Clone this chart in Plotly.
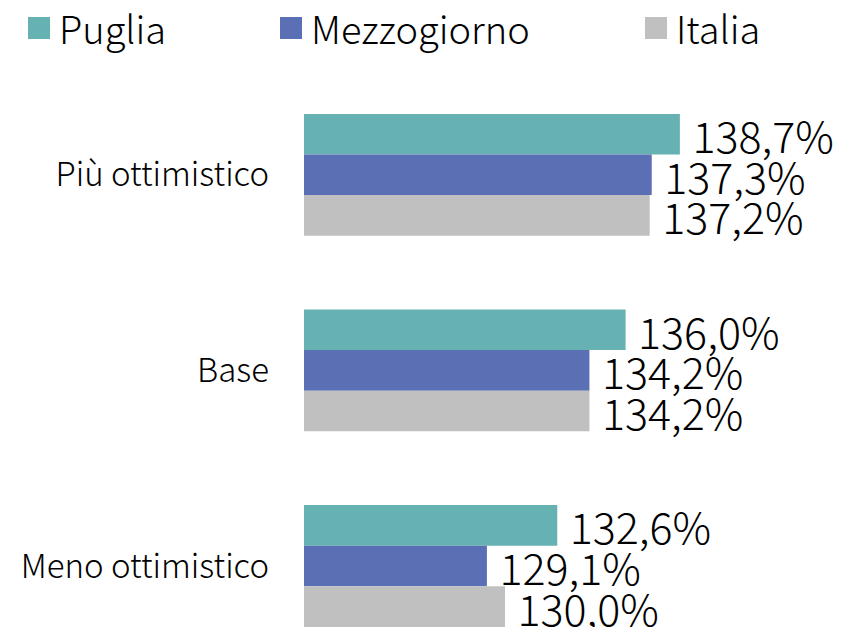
import plotly.graph_objects as go

# -----------------------------
# Data
# -----------------------------
scenari = ["Più ottimistico", "Base", "Meno ottimistico"]
puglia = [138.7, 136.0, 132.6]
mezzogiorno = [137.3, 134.2, 129.1]
italia = [137.2, 134.2, 130.0]

serie_nomi = ["Puglia", "Mezzogiorno", "Italia"]
colori = ["#66B2B2", "#5B6FB5", "#C0C0C0"]

FONT = "Noto Sans CJK JP"
OFF = 8  # page body margin
W, H = 846 - OFF, 627 - OFF
M = dict(l=304 - OFF, r=140, t=60 - OFF, b=0)
plot_w = W - M["l"] - M["r"]
plot_h = H - M["t"] - M["b"]


def px_x(px):
    return (px - OFF - M["l"]) / plot_w


def px_y(py):
    return (H - M["b"] - (py - OFF)) / plot_h


# -----------------------------
# Plot
# -----------------------------
fig = go.Figure()

for nome, valori, colore in zip(serie_nomi, [puglia, mezzogiorno, italia], colori):
    fig.add_trace(go.Bar(
        y=scenari,
        x=valori,
        base=0,
        orientation="h",
        name=nome,
        marker=dict(color=colore, line=dict(width=0)),
        texttemplate=" %{x:.1f}%",
        textposition="outside",
        textfont=dict(family=FONT, size=43, color="black", weight=300),
        constraintext="none",
        cliponaxis=False,
        showlegend=False,
        hoverinfo="skip",
    ))

# Legend (drawn by hand, the swatches are larger than plotly's)
legend_x = [28, 280, 645]
for nome, colore, lx in zip(serie_nomi, colori, legend_x):
    fig.add_shape(
        type="rect", xref="paper", yref="paper",
        x0=px_x(lx), x1=px_x(lx + 22), y0=px_y(39), y1=px_y(17),
        fillcolor=colore, line=dict(width=0),
    )
    fig.add_annotation(
        text=nome, xref="paper", yref="paper",
        x=px_x(lx + 29), y=px_y(27),
        xanchor="left", yanchor="middle", showarrow=False,
        font=dict(family=FONT, size=38, color="black", weight=300),
    )

fig.update_layout(
    width=W, height=H,
    margin=M,
    barmode="group",
    bargap=0.377,
    bargroupgap=0,
    separators=",.",
    plot_bgcolor="white",
    paper_bgcolor="white",
    font=dict(family=FONT, color="black"),
)

fig.update_xaxes(range=[120, 140], visible=False)
fig.update_yaxes(
    range=[2.312, -0.587],
    showgrid=False, showline=False, zeroline=False, ticks="",
    tickfont=dict(family=FONT, size=33, color="black", weight=300),
    ticklabelstandoff=34,
)

fig.write_html("out.html")
